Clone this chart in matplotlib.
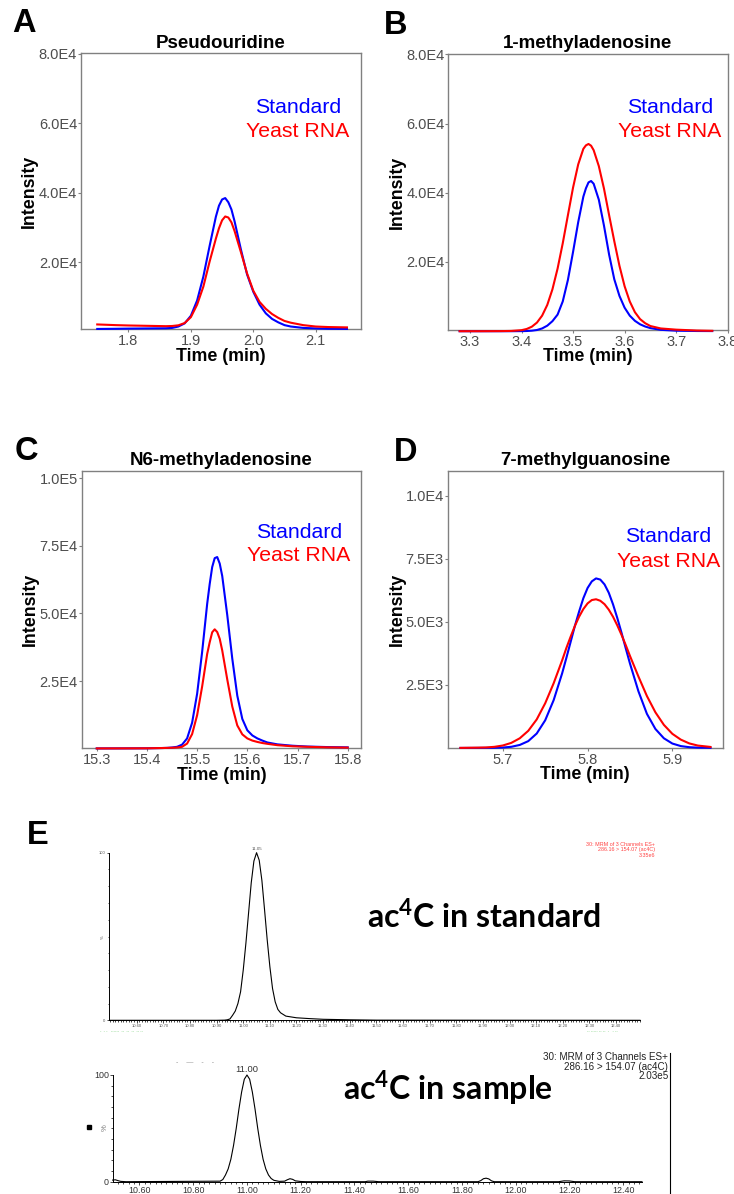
import numpy as np
import matplotlib
matplotlib.use("Agg")
from matplotlib import pyplot as plt
from matplotlib.lines import Line2D
from matplotlib.patches import Rectangle

plt.rcParams["font.family"] = ["Liberation Sans", "DejaVu Sans"]
plt.rcParams["mathtext.fontset"] = "custom"
plt.rcParams["mathtext.bf"] = "Lato:bold"
plt.rcParams["mathtext.rm"] = "Lato"

W, H = 734, 1194

# ---- panel A: Pseudouridine
a_time = [1.75, 1.78, 1.80, 1.83, 1.86, 1.87, 1.88, 1.89, 1.90, 1.91, 1.92, 1.93, 1.94, 1.945, 1.95, 1.955,
          1.96, 1.965, 1.97, 1.98, 1.99, 2.00, 2.01, 2.02, 2.03, 2.04, 2.05, 2.06, 2.08, 2.10, 2.12, 2.15]
a_standard = [800, 850, 900, 950, 1000, 1100, 1500, 2400, 4600, 9000, 15900, 24700, 33100, 36300, 38100, 38500,
              37300, 35200, 31800, 23800, 16500, 11500, 7800, 5300, 3700, 2700, 1900, 1500, 1100, 950, 850, 800]
a_yeast = [2100, 1900, 1800, 1700, 1600, 1650, 1850, 2500, 4200, 7800, 13000, 20200, 26800, 29800, 32100, 33200,
           32900, 31500, 29000, 23000, 16800, 11800, 8600, 6600, 5100, 4000, 3100, 2600, 1900, 1500, 1350, 1250]

# ---- panel B: 1-methyladenosine
b_time = [3.28, 3.32, 3.36, 3.38, 3.40, 3.41, 3.42, 3.43, 3.44, 3.45, 3.46, 3.47, 3.48, 3.49, 3.50, 3.51, 3.52,
          3.525, 3.53, 3.535, 3.54, 3.55, 3.56, 3.57, 3.58, 3.59, 3.60, 3.61, 3.62, 3.63, 3.64, 3.65, 3.67, 3.70,
          3.74, 3.77]
b_standard = [0, 0, 0, 0, 30, 60, 150, 350, 800, 1600, 2900, 4800, 8600, 14800, 22900, 31500, 38900,
              41300, 43000, 43400, 42600, 38000, 30500, 22100, 15000, 10200, 6800, 4500, 3000, 2000, 1350, 900,
              400, 150, 60, 40]
b_yeast = [0, 0, 30, 80, 300, 640, 1300, 2500, 4500, 7600, 12100, 18100, 25400, 33500, 41500, 48200, 52700,
           53700, 54100, 53600, 52300, 47700, 41200, 33500, 26000, 18900, 13000, 8600, 5500, 3500, 2300, 1500,
           800, 450, 200, 120]

# ---- panel C: N6-methyladenosine
c_time = [15.30, 15.35, 15.40, 15.43, 15.44, 15.45, 15.46, 15.47, 15.48, 15.49, 15.50, 15.51, 15.52, 15.525,
          15.53, 15.535, 15.54, 15.545, 15.55, 15.56, 15.57, 15.58, 15.59, 15.60, 15.61, 15.62, 15.63, 15.64,
          15.66, 15.69, 15.72, 15.76, 15.80]
c_standard = [100, 120, 150, 250, 300, 450, 700, 1500, 3800, 9600, 20300, 35800, 53500, 60800,
              67100, 70400, 70800, 68400, 63800, 49400, 33300, 19600, 11000, 6800, 4900, 3800, 3000, 2300,
              1600, 1100, 800, 600, 500]
c_yeast = [100, 120, 150, 250, 300, 350, 450, 700, 1900, 5400, 12400, 23000, 35000, 39300,
           43000, 44100, 43100, 40600, 36300, 25600, 15600, 8600, 5300, 3800, 3000, 2500, 2100, 1800,
           1300, 900, 700, 500, 400]

# ---- panel D: 7-methylguanosine
d_time = [5.65, 5.67, 5.68, 5.69, 5.70, 5.71, 5.72, 5.73, 5.74, 5.75, 5.76, 5.77, 5.775, 5.78, 5.785, 5.79,
          5.795, 5.80, 5.805, 5.81, 5.815, 5.82, 5.825, 5.83, 5.835, 5.84, 5.845, 5.85, 5.86, 5.87, 5.88, 5.89,
          5.90, 5.91, 5.92, 5.93, 5.945]
d_standard = [0, 2, 4, 6, 16, 46, 119, 270, 572, 1097, 1898, 2961, 3574, 4206, 4839, 5411,
              5939, 6346, 6609, 6727, 6680, 6488, 6158, 5700, 5162, 4576, 3957, 3350, 2248, 1353, 754, 384,
              175, 74, 30, 12, 5]
d_yeast = [3, 12, 19, 44, 97, 201, 383, 679, 1131, 1772, 2568, 3475, 3966, 4414, 4838, 5207,
           5510, 5735, 5868, 5899, 5840, 5704, 5487, 5207, 4867, 4491, 4083, 3652, 2833, 2060, 1415, 916,
           561, 330, 180, 95, 40]

# ---- panel E: ac4C chromatograms (relative %)
e_std_time = [10.50, 10.90, 10.93, 10.94, 10.95, 10.96, 10.97, 10.98, 10.99, 11.00, 11.01, 11.02, 11.03, 11.04,
              11.05, 11.06, 11.07, 11.08, 11.09, 11.10, 11.11, 11.12, 11.13, 11.14, 11.16, 11.20, 11.25, 11.30,
              11.40, 11.50, 12.49]
e_std_signal = [0, 0, 0.1, 0.3, 0.8, 3, 5.5, 10, 17, 30, 46, 64, 82, 95,
                100, 95.5, 83.5, 66, 48, 32, 19, 11, 6.5, 4.5, 2.5, 1.5, 1.0, 0.6,
                0.3, 0.1, 0]
e_smp_time = [10.50, 10.51, 10.52, 10.53, 10.55, 10.90, 10.91, 10.92, 10.93, 10.94, 10.95, 10.96, 10.97, 10.98,
              10.99, 11.00, 11.01, 11.02, 11.03, 11.04, 11.05, 11.06, 11.07, 11.08, 11.09, 11.10, 11.12, 11.14,
              11.15, 11.16, 11.17, 11.18, 11.20, 11.22, 11.44, 11.45, 11.47, 11.49, 11.86, 11.87, 11.88, 11.89,
              11.90, 11.91, 11.92, 12.16, 12.18, 12.20, 12.22, 12.47]
e_smp_signal = [1.5, 1.8, 1.0, 0.3, 0, 0.5, 2.0, 6.3, 12, 21, 34, 50, 68, 84,
                96, 100, 96, 84, 68, 50, 34, 21, 12, 6.3, 3.0, 1.3, 0.3, 0.5,
                1.8, 2.8, 2.2, 0.8, 0.2, 0, 0, 0.5, 0.5, 0, 0, 1.0, 2.8, 3.3,
                2.6, 0.8, 0, 0, 0.8, 0.7, 0, 0]


def px_axes(fig, left, top, right, bottom):
    return fig.add_axes([left / W, 1 - bottom / H, (right - left) / W, (bottom - top) / H])


def fig_text(fig, x, y, s, **kw):
    return fig.text(x / W, 1 - y / H, s, **kw)


def sci_label(v):
    e = int(np.floor(np.log10(v)))
    return f"{v / 10 ** e:.1f}E{e}"


def chromatogram_panel(fig, rect, title, time, standard, yeast, xlim, ylim, xticks, yticks, legend_x, legend_y):
    ax = px_axes(fig, *rect)
    ax.plot(time, standard, color="#0000ff", lw=1.5, clip_on=False, zorder=3)
    ax.plot(time, yeast, color="#ff0000", lw=1.5, clip_on=False, zorder=3)
    ax.set_xlim(*xlim)
    ax.set_ylim(*ylim)
    ax.set_xticks(xticks)
    ax.set_xticklabels([f"{t:.1f}" for t in xticks])
    ax.set_yticks(yticks)
    ax.set_yticklabels([sci_label(v) for v in yticks])
    for s in ax.spines.values():
        s.set_color("#808080")
        s.set_linewidth(1.0)
    ax.tick_params(length=2, width=0.8, color="#808080", labelsize=10.5, labelcolor="#4d4d4d")
    ax.tick_params(axis="y", pad=0.8)
    ax.tick_params(axis="x", pad=1.5)
    ax.text(0.5, 1.02, title, transform=ax.transAxes, ha="center", va="baseline",
            fontsize=13.5, fontweight="bold")
    ax.text(0.5, -0.097, "Time (min)", transform=ax.transAxes, ha="center", va="center",
            fontsize=12.8, fontweight="bold")
    ax.text(-0.184, 0.5, "Intensity", transform=ax.transAxes, ha="center", va="center",
            rotation=90, fontsize=12.8, fontweight="bold")
    ax.text(legend_x, legend_y[0], "Standard", transform=ax.transAxes, ha="center", va="center",
            fontsize=15.3, color="#0000ff")
    ax.text(legend_x, legend_y[1], "Yeast RNA", transform=ax.transAxes, ha="center", va="center",
            fontsize=15.3, color="#ff0000")
    return ax


def ms_panel(fig, rect, time, signal, xlim, major, minor, tick_size, tick_color, peak_size, tick_len):
    ax = px_axes(fig, *rect)
    ax.plot(time, signal, color="black", lw=0.8, clip_on=False, zorder=3)
    ax.set_xlim(*xlim)
    ax.set_ylim(0, 100)
    ax.spines["top"].set_visible(False)
    ax.spines["right"].set_visible(False)
    for side in ["left", "bottom"]:
        ax.spines[side].set_linewidth(0.7)
    ax.set_xticks(major)
    ax.set_xticklabels([f"{t:.2f}" for t in major])
    ax.set_xticks(minor, minor=True)
    ax.set_yticks([0, 100])
    ax.set_yticks(np.arange(10, 100, 10), minor=True)
    ax.tick_params(which="major", length=tick_len, width=0.5, labelsize=tick_size,
                   labelcolor=tick_color, pad=1)
    ax.tick_params(which="minor", length=tick_len * 0.6, width=0.5)
    i = int(np.argmax(signal))
    ax.annotate(f"{time[i]:.2f}", (time[i], signal[i]), xytext=(0, 1), textcoords="offset points",
                ha="center", va="bottom", fontsize=peak_size, color=tick_color, annotation_clip=False)
    return ax


def main():
    fig = plt.figure(figsize=(W / 100, H / 100), dpi=100)

    chromatogram_panel(fig, (81, 53.3, 361, 329.3), "Pseudouridine", a_time, a_standard, a_yeast,
                       (1.724, 2.1725), (700, 80200), [1.8, 1.9, 2.0, 2.1], [2e4, 4e4, 6e4, 8e4],
                       0.775, (0.804, 0.718))
    chromatogram_panel(fig, (448.3, 54, 727.7, 330), "1-methyladenosine", b_time, b_standard, b_yeast,
                       (3.258, 3.7956), (350, 80100), [3.3, 3.4, 3.5, 3.6, 3.7, 3.8], [2e4, 4e4, 6e4, 8e4],
                       0.793, (0.807, 0.721))
    chromatogram_panel(fig, (81.7, 470.7, 361, 748.3), "N6-methyladenosine", c_time, c_standard, c_yeast,
                       (15.270, 15.8265), (150, 102700), [15.3, 15.4, 15.5, 15.6, 15.7, 15.8],
                       [2.5e4, 5e4, 7.5e4, 1e5], 0.778, (0.778, 0.696))
    chromatogram_panel(fig, (447.7, 470.7, 722.7, 747.7), "7-methylguanosine", d_time, d_standard, d_yeast,
                       (5.635, 5.9594), (10, 11000), [5.7, 5.8, 5.9], [2.5e3, 5e3, 7.5e3, 1e4],
                       0.802, (0.762, 0.671))

    for letter, x, y in [("A", 24, 23.5), ("B", 396, 25), ("C", 26.5, 451), ("D", 406, 452.5), ("E", 37.5, 836)]:
        fig_text(fig, x, y, letter, ha="center", va="center", fontsize=23.5, fontweight="bold")

    # E, top chromatogram (standard)
    ms_panel(fig, (109.3, 852.7, 640, 1020.3), e_std_time, e_std_signal, (10.497, 12.49),
             np.round(np.arange(10.6, 12.41, 0.1), 2), np.round(np.arange(10.5, 12.495, 0.01), 2),
             3.0, "#555555", 3.2, 1.8)
    fig_text(fig, 103.3, 936.7, "%", rotation=90, ha="center", va="center", fontsize=3.2, color="#555555")
    for txt, y in [("30: MRM of 3 Channels ES+", 844), ("286.16 > 154.07 (ac4C)", 850), ("3.35e6", 855.5)]:
        fig_text(fig, 655, y, txt, ha="right", va="center", fontsize=3.85, color="#ff4444")
    fig_text(fig, 100, 1031, "-  - -   ------  --  --  --  -- --", ha="left", va="center",
             fontsize=3, color="#44bb44")
    fig_text(fig, 587, 1031, "-- ----- -- --  -   - --", ha="left", va="center",
             fontsize=3, color="#44bb44")
    fig_text(fig, 367, 928, r"ac$^{\mathbf{4}}$C in standard", ha="left", va="baseline",
             fontsize=23, fontweight="bold", family="Lato")

    # E, bottom chromatogram (sample)
    ms_panel(fig, (113.3, 1075, 641.7, 1181.7), e_smp_time, e_smp_signal, (10.5025, 12.469),
             np.round(np.arange(10.6, 12.41, 0.2), 2), np.round(np.arange(10.52, 12.47, 0.02), 2),
             6.4, "#333333", 6.7, 2.2)
    fig_text(fig, 105, 1128, "%", rotation=90, ha="center", va="center", fontsize=5.5, color="#777777")
    fig.add_artist(Rectangle((87 / W, 1 - 1129.3 / H), 4 / W, 4 / H, transform=fig.transFigure,
                             color="black"))
    fig_text(fig, 195, 1063, "-    \u2014    -    -", ha="center", va="center", fontsize=5, color="#999999")
    for txt, y in [("30: MRM of 3 Channels ES+", 1056.7), ("286.16 > 154.07 (ac4C)", 1066.7), ("2.03e5", 1076)]:
        fig_text(fig, 668.3, y, txt, ha="right", va="center", fontsize=7.1, color="#222222")
    fig.add_artist(Line2D([670 / W, 670 / W], [1 - 1053 / H, 0], transform=fig.transFigure,
                          color="black", lw=0.8))
    fig_text(fig, 343, 1100, r"ac$^{\mathbf{4}}$C in sample", ha="left", va="baseline",
             fontsize=23, fontweight="bold", family="Lato")

    plt.savefig("out.png", dpi=100)


if __name__ == "__main__":
    main()
